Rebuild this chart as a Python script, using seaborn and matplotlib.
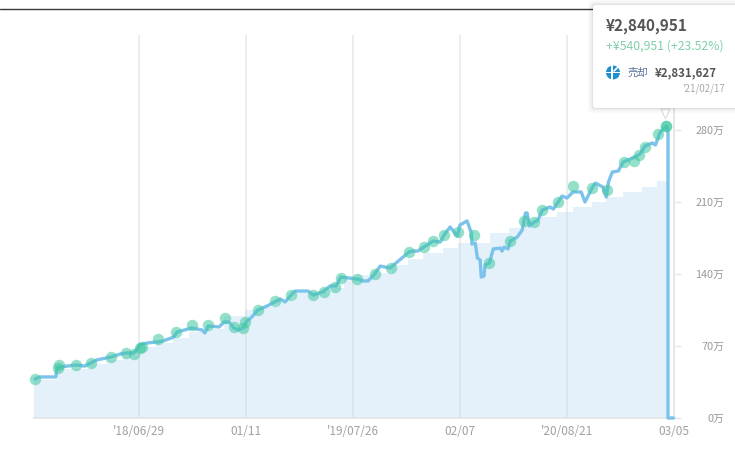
import matplotlib
matplotlib.use('Agg')
import matplotlib.pyplot as plt
from matplotlib.patches import FancyBboxPatch, Circle, Polygon, Rectangle
import pandas as pd
import seaborn as sns

# days since the first point / value in man-yen
line_days = [2, 11, 40, 42, 48, 77, 93, 104, 115, 141, 158, 169, 183, 194, 207, 225, 236, 256, 262, 289,
             308, 313, 319, 339, 348, 357, 366, 374, 383, 390, 399, 410, 427, 441, 451, 460, 471, 478, 502, 511,
             529, 542, 553, 562, 592, 603, 612, 625, 634, 652, 665, 687, 694, 703, 714, 731, 744, 751, 762, 775,
             780, 793, 801, 802, 808, 812, 817, 819, 824, 826, 834, 841, 854, 857, 861, 868, 872, 885, 894, 900,
             903, 907, 916, 923, 931, 945, 951, 960, 967, 976, 987, 1002, 1009, 1022, 1028, 1042, 1048, 1052, 1059, 1070,
             1079, 1096, 1110, 1119, 1132, 1138, 1147, 1158, 1161, 1161, 1171]
line_vals = [37.9, 39.9, 39.9, 48.6, 49.6, 51.5, 50.5, 53.5, 56.4, 59.3, 62.2, 63.2, 63.2, 71, 72.9, 73.9, 74.8, 78.7, 83.6, 87.5,
             85.5, 82.6, 89.4, 88.5, 93.3, 93.3, 87.5, 85.5, 87.5, 94.3, 98.2, 105, 108.9, 112.8, 115.7, 112.8, 119.6, 123.4, 123.4, 119.6,
             122.5, 128.3, 128.3, 137, 135.1, 133.2, 133.2, 140.9, 147.7, 145.8, 151.6, 161.4, 162.3, 162.3, 166.2, 172, 171.1, 177.9, 185.7, 176.9,
             187.6, 191.5, 179.8, 169.1, 170.1, 155.5, 153.6, 137, 138, 148.7, 150.7, 164.3, 165.2, 162.3, 166.2, 164.3, 172, 175.9, 182.7, 199.3,
             199.3, 186.6, 190.5, 192.5, 202.2, 205.1, 203.1, 210, 215.8, 213.8, 219.7, 219.7, 210, 223.6, 228.4, 224.5, 214.8, 229.4, 239.1, 240.1,
             248.8, 252.7, 256.6, 264.4, 267.3, 265.4, 278, 283.8, 280, 0, 0]

# trade markers
trade_days = [2, 44, 46, 77, 104, 141, 169, 183, 194, 198, 227, 260, 289, 319, 350, 366, 383, 387, 410, 441,
              471, 511, 531, 551, 562, 592, 625, 654, 687, 714, 731, 751, 777, 806, 834, 872, 898, 916, 931, 960,
              987, 1022, 1050, 1081, 1099, 1108, 1119, 1143, 1158, 1158]
trade_vals = [37.9, 48.6, 51.5, 51.5, 53.5, 59.3, 63.2, 62.2, 68, 69, 76.8, 83.6, 90.4, 90.4, 97.2, 88.5, 87.5, 93.3, 105, 113.7,
              119.6, 119.6, 122.5, 127.3, 136.1, 135.1, 140, 145.8, 161.4, 166.2, 172, 177.9, 180.8, 177.9, 150.7, 172, 191.5, 190.5, 202.2, 210,
              225.5, 223.6, 221.6, 248.8, 249.8, 255.6, 263.4, 276, 283.8, 283.8]

# invested amount, stepped
step_days = [0, 42, 103, 132, 163, 194, 224, 255, 284, 315, 348, 387, 418, 447, 478, 507, 539, 568, 592, 623,
             656, 685, 713, 749, 777, 835, 870, 898, 927, 958, 987, 1022, 1048, 1079, 1114, 1141, 1161, 1161]
step_vals = [36.9, 47.6, 52.5, 56.4, 61.2, 69, 72.9, 77.8, 83.6, 86.5, 99.1, 105, 107.9, 113.7, 121.5, 122.5, 126.4, 134.1, 139, 140.9,
             148.7, 154.5, 160.4, 165.2, 170.1, 179.8, 184.7, 190.5, 195.4, 200.2, 205.1, 210, 214.8, 219.7, 224.5, 230.4, 230.4, 0]

x_ticks = [192, 388, 584, 780, 976, 1172]
x_labels = ["'18/06/29", "01/11", "'19/07/26", "02/07", "'20/08/21", "03/05"]
y_ticks = [0, 70, 140, 210, 280]
y_labels = ['0万', '70万', '140万', '210万', '280万']

sns.set_theme(style='white')
plt.rcParams['font.family'] = ['Noto Sans CJK JP', 'DejaVu Sans']

W, H = 735, 451
fig = plt.figure(figsize=(W / 100, H / 100), dpi=100)
ax = fig.add_axes([34 / W, 1 - 418 / H, 640 / W, 383 / H])
ax.set_xlim(0, 1172)
ax.set_ylim(0, 372.3)
ax.patch.set_alpha(0)

ax.fill_between(step_days, step_vals, 0, step='post', color='#e4f1fa', lw=0, zorder=1)
for t in x_ticks:
    ax.axvline(t, color='#c9ced3', alpha=0.4, lw=1.3, zorder=2)

line_df = pd.DataFrame({'day': line_days, 'val': line_vals})
sns.lineplot(data=line_df, x='day', y='val', sort=False, estimator=None, color='#7cc3ec',
             lw=2.4, ax=ax, zorder=3, clip_on=False)
trade_df = pd.DataFrame({'day': trade_days, 'val': trade_vals})
sns.scatterplot(data=trade_df, x='day', y='val', color='#3fc8a0', alpha=0.55, s=68, linewidth=0,
                ax=ax, zorder=4, clip_on=False)

ax.set_xlabel('')
ax.set_ylabel('')
for s in ['top', 'left']:
    ax.spines[s].set_visible(False)
for s in ['bottom', 'right']:
    ax.spines[s].set_visible(True)
    ax.spines[s].set_color('#e4e7ea')
    ax.spines[s].set_linewidth(1.4)

ax.set_xticks(x_ticks)
ax.set_xticklabels(x_labels)
ax.set_yticks(y_ticks)
ax.set_yticklabels(y_labels)
ax.yaxis.tick_right()
ax.tick_params(axis='x', length=0, pad=5, labelsize=8.5, labelcolor='#a0a0a0')
ax.tick_params(axis='y', length=5, width=1, color='#e4e7ea', pad=31, labelsize=7.8, labelcolor='#999999')
for lab in ax.get_yticklabels():
    lab.set_ha('right')

# overlay in pixels for the top rule and the tooltip
ov = fig.add_axes([0, 0, 1, 1])
ov.set_xlim(0, W)
ov.set_ylim(H, 0)
ov.axis('off')
ov.patch.set_alpha(0)

ov.plot([0, 600], [9, 9], color='#3a3a3a', lw=1)
ov.add_patch(Polygon([[661, 109], [670, 109], [665.5, 119]], closed=True, fc='white', ec='#dddddd', lw=0.8, zorder=5))
for grow, a in [(5, 0.02), (3.5, 0.025), (2, 0.03), (1, 0.04)]:
    ov.add_patch(FancyBboxPatch((593 - grow, 5 - grow), 160 + 2 * grow, 103 + 2 * grow,
                                boxstyle='round,pad=0,rounding_size=4', fc='black', ec='none', alpha=a, zorder=6))
ov.add_patch(FancyBboxPatch((593, 5), 160, 103, boxstyle='round,pad=0,rounding_size=3',
                            fc='white', ec='none', zorder=7))

ov.text(606, 26.5, '¥2,840,951', fontsize=11, fontweight='bold', color='#555555', va='center', zorder=8)
ov.text(606, 46, '+¥540,951 (+23.52%)', fontsize=8.8, color='#7fd0a8', va='center', zorder=8)
ov.add_patch(Circle((613, 72.5), 7, fc='#1f8fce', ec='none', zorder=8))
ov.add_patch(Rectangle((606, 71.5), 14, 1.4, fc='white', ec='none', zorder=9))
ov.add_patch(Rectangle((611.5, 65), 1.4, 15, fc='white', ec='none', zorder=9))
ov.plot([614, 620], [71, 65], color='white', lw=1.2, zorder=9)
ov.text(628, 73, '売却', fontsize=7.5, color='#5a6f9a', va='center', zorder=8)
ov.text(655, 72.5, '¥2,831,627', fontsize=8.3, fontweight='bold', color='#555555', va='center', zorder=8)
ov.text(725, 89, "'21/02/17", fontsize=7, color='#aaaaaa', va='center', ha='right', zorder=8)

fig.savefig('out.png', dpi=100, facecolor='white')
